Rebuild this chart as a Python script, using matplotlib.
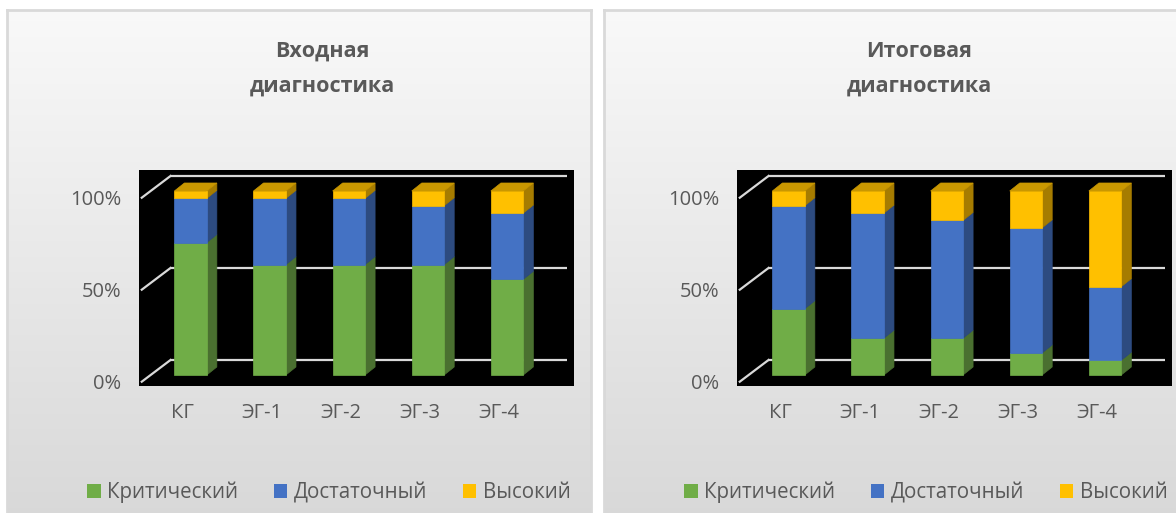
import numpy as np
import matplotlib
matplotlib.use("Agg")
import matplotlib.pyplot as plt
from matplotlib.patches import Polygon, Patch

plt.rcParams['font.family'] = ['Open Sans', 'DejaVu Sans']

# ---------------- data ----------------
categories = ['КГ', 'ЭГ-1', 'ЭГ-2', 'ЭГ-3', 'ЭГ-4']
series_names = ['Критический', 'Достаточный', 'Высокий']

entry_critical = [72, 60, 60, 60, 52]
entry_sufficient = [24, 36, 36, 32, 36]
entry_high = [4, 4, 4, 8, 12]

final_critical = [36, 20, 20, 12, 8]
final_sufficient = [56, 68, 64, 68, 40]
final_high = [8, 12, 16, 20, 52]

titles = [('Входная', 'диагностика'), ('Итоговая', 'диагностика')]
y_ticks = [0, 50, 100]
y_tick_labels = ['0%', '50%', '100%']

# ---------------- style ----------------
front_colors = ['#70ad47', '#4472c4', '#ffc000']
side_colors = ['#4a7030', '#2d4b80', '#a67c00']
top_color = '#c99700'
text_color = '#595959'
grid_color = '#d9d9d9'

W, H = 1176, 513
fig = plt.figure(figsize=(W / 100, H / 100), dpi=100)
fig.patch.set_facecolor('white')


def fx(px):
    return px / W


def fy(py):
    return 1 - py / H


# panel backgrounds (gradient)
grad = np.linspace(0, 1, 256).reshape(-1, 1)
top_rgb = np.array([0.975, 0.975, 0.975])
bot_rgb = np.array([0.85, 0.85, 0.85])
img = top_rgb[None, None, :] * (1 - grad[:, :, None]) + bot_rgb[None, None, :] * grad[:, :, None]
for x0, x1 in [(7, 591), (604, 1190)]:
    bg = fig.add_axes([fx(x0), 0, fx(x1 - x0), fy(10)], zorder=0)
    bg.imshow(img, aspect='auto', extent=[0, 1, 0, 1], origin='upper')
    bg.set_xticks([]); bg.set_yticks([])
    for s in ['left', 'right', 'top']:
        bg.spines[s].set_color(grid_color)
        bg.spines[s].set_linewidth(2)
    bg.spines['bottom'].set_visible(False)

# geometry (in data units)
bar_w = 0.41
depth_dx, depth_dy = 0.127, 4.35
wall_front_x, wall_front_dy = -0.617, -3.64
wall_back_x0, wall_back_x1, wall_back_dy = -0.254, 4.756, 8.15
label_shift = -0.1

panels = [
    (139, (entry_critical, entry_sufficient, entry_high), titles[0], 322.5, 87),
    (737, (final_critical, final_sufficient, final_high), titles[1], 919.5, 684),
]

for left_px, series, title, title_x, legend_x in panels:
    ax = fig.add_axes([fx(left_px), fy(386), fx(435), (386 - 170) / H], zorder=2)
    ax.set_facecolor('black')
    ax.set_xlim(-0.652, 4.846)
    ax.set_ylim(-5.98, 111.41)
    for s in ax.spines.values():
        s.set_visible(False)

    x = np.arange(len(categories))

    # back wall gridlines + floor diagonals
    for v in y_ticks:
        ax.plot([wall_back_x0, wall_back_x1], [v + wall_back_dy] * 2,
                color=grid_color, lw=1.6, zorder=1, solid_capstyle='butt')
        ax.plot([wall_front_x, wall_back_x0], [v + wall_front_dy, v + wall_back_dy],
                color=grid_color, lw=1.6, zorder=1)

    bottoms = np.zeros(len(categories))
    for si, vals in enumerate(series):
        vals = np.array(vals, dtype=float)
        ax.bar(x, vals, bottom=bottoms, width=bar_w, color=front_colors[si],
               edgecolor=front_colors[si], linewidth=0.5, zorder=3)
        for xi, b, h in zip(x, bottoms, vals):
            xr = xi + bar_w / 2
            side = Polygon([(xr, b), (xr + depth_dx, b + depth_dy),
                            (xr + depth_dx, b + h + depth_dy), (xr, b + h)],
                           closed=True, facecolor=side_colors[si],
                           edgecolor=side_colors[si], linewidth=0.5, zorder=2.5)
            ax.add_patch(side)
        bottoms = bottoms + vals

    # top faces
    for xi, t in zip(x, bottoms):
        xl, xr = xi - bar_w / 2, xi + bar_w / 2
        top = Polygon([(xl, t), (xl + depth_dx, t + depth_dy),
                       (xr + depth_dx, t + depth_dy), (xr, t)],
                      closed=True, facecolor=top_color, edgecolor=top_color,
                      linewidth=0.5, zorder=2.6)
        ax.add_patch(top)

    ax.set_yticks(np.array(y_ticks) + wall_front_dy)
    ax.set_yticklabels(y_tick_labels)
    ax.set_xticks(x + label_shift)
    ax.set_xticklabels(categories)
    ax.tick_params(axis='both', length=0, labelsize=14.5, labelcolor=text_color)
    ax.tick_params(axis='y', pad=13)
    ax.tick_params(axis='x', pad=12)

    # title
    fig.text(fx(title_x), fy(56.7), title[0], ha='center', va='baseline',
             fontsize=15.5, fontweight='bold', color=text_color)
    fig.text(fx(title_x), fy(91.7), title[1], ha='center', va='baseline',
             fontsize=15.5, fontweight='bold', color=text_color)

    # legend
    handles = [Patch(facecolor=c, edgecolor='none') for c in front_colors]
    fig.legend(handles, series_names, loc='center left',
               bbox_to_anchor=(fx(legend_x), fy(492.5)),
               bbox_transform=fig.transFigure, ncol=3, frameon=False,
               fontsize=14.8, labelcolor=text_color,
               handlelength=0.66, handleheight=0.66, handletextpad=0.3,
               columnspacing=1.75, borderpad=0, borderaxespad=0)

fig.savefig('out.png', dpi=100, facecolor='white')
